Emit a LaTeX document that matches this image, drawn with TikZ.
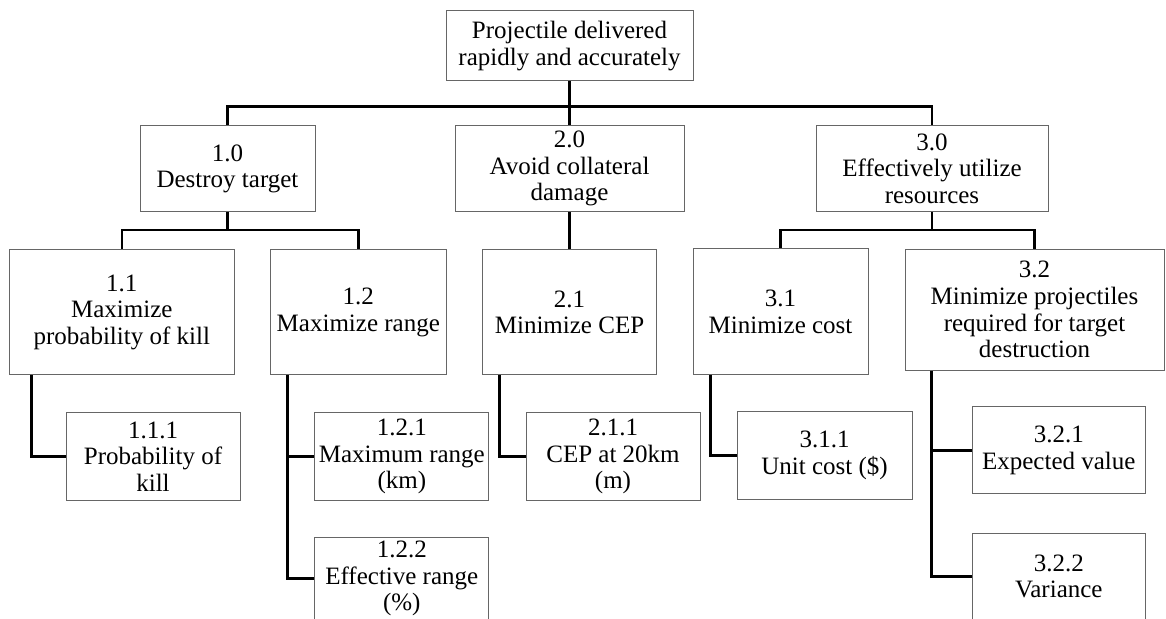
\documentclass[tikz,border=0pt]{standalone}
\usepackage{fontspec}
\setmainfont{Liberation Serif}
\usetikzlibrary{positioning}

\begin{document}
\begin{tikzpicture}[
    x=0.5pt, y=-0.5pt,
    box/.style={draw=black!60, line width=0.5pt, align=center, inner sep=1pt,
                font=\fontsize{12.5}{13.3}\selectfont},
    top/.style={box, minimum width=87.5pt, minimum height=43.3pt},
    mid/.style={box, minimum width=87.5pt, minimum height=62.8pt},
    leaf/.style={box, minimum width=87pt, minimum height=43.5pt},
    link/.style={line width=1.2pt}
  ]
  \useasboundingbox (0,0) rectangle (1166,619);

  \node[box, minimum width=123.5pt, minimum height=35pt] (root) at (569.5,46)
    {Projectile delivered\\rapidly and accurately};

  \node[top] (n10) at (227.5,168.7) {1.0\\Destroy target};
  \node[top, minimum width=114.5pt] (n20) at (569.5,168.7) {2.0\\Avoid collateral\\damage};
  \node[top, minimum width=116pt] (n30) at (932,168.7) {3.0\\Effectively utilize\\resources};

  \node[mid, minimum width=112.2pt] (n11) at (121.8,312.2) {1.1\\Maximize\\probability of kill};
  \node[mid, minimum width=87.7pt] (n12) at (358.3,312.2) {1.2\\Maximize range};
  \node[mid, minimum width=87pt] (n21) at (569.5,312.2) {2.1\\Minimize CEP};
  \node[mid] (n31) at (780.5,311.7) {3.1\\Minimize cost};
  \node[mid, minimum width=129.5pt, minimum height=60.4pt] (n32) at (1034.5,309.7)
    {3.2\\Minimize projectiles\\required for target\\destruction};

  \node[leaf] (n111) at (153,456.5) {1.1.1\\Probability of\\kill};
  \node[leaf] (n121) at (401.8,456.5) {1.2.1\\Maximum range\\(km)};
  \node[leaf, minimum height=41pt, below=18.3pt of n121] (n122)
    {1.2.2\\Effective range\\(\%)};
  \node[leaf] (n211) at (613,456.5) {2.1.1\\CEP at 20km\\(m)};
  \node[leaf, minimum width=87.5pt] (n311) at (824.5,455.5) {3.1.1\\Unit cost (\$)};
  \node[leaf, minimum width=86.8pt] (n321) at (1058.8,450.5) {3.2.1\\Expected value};
  \node[leaf, minimum width=86.8pt, below=19pt of n321] (n322) {3.2.2\\Variance};

  \coordinate (bus0) at (569.5,106.7);
  \coordinate (bus1) at (227.5,230);
  \coordinate (bus3) at (932,230);

  \draw[link] (root.south) -- (bus0) -| (n10.north);
  \draw[link] (bus0) -| (n30.north);
  \draw[link] (bus0) -- (n20.north);

  \draw[link] (n10.south) -- (bus1) -| (n11.north);
  \draw[link] (bus1) -| (n12.north);
  \draw[link] (n20.south) -- (n21.north);
  \draw[link] (n30.south) -- (bus3) -| (n31.north);
  \draw[link] (bus3) -| (n32.north);

  \draw[link] ([xshift=11.2pt]n11.south west) |- (n111.west);
  \draw[link] ([xshift=8.7pt]n12.south west) |- (n122.west);
  \draw[link] ([xshift=8.7pt]n12.south west |- n121.west) -- (n121.west);
  \draw[link] ([xshift=8.7pt]n21.south west) |- (n211.west);
  \draw[link] ([xshift=9pt]n31.south west) |- (n311.west);
  \draw[link] ([xshift=13.5pt]n32.south west) |- (n322.west);
  \draw[link] ([xshift=13.5pt]n32.south west |- n321.west) -- (n321.west);
\end{tikzpicture}
\end{document}
